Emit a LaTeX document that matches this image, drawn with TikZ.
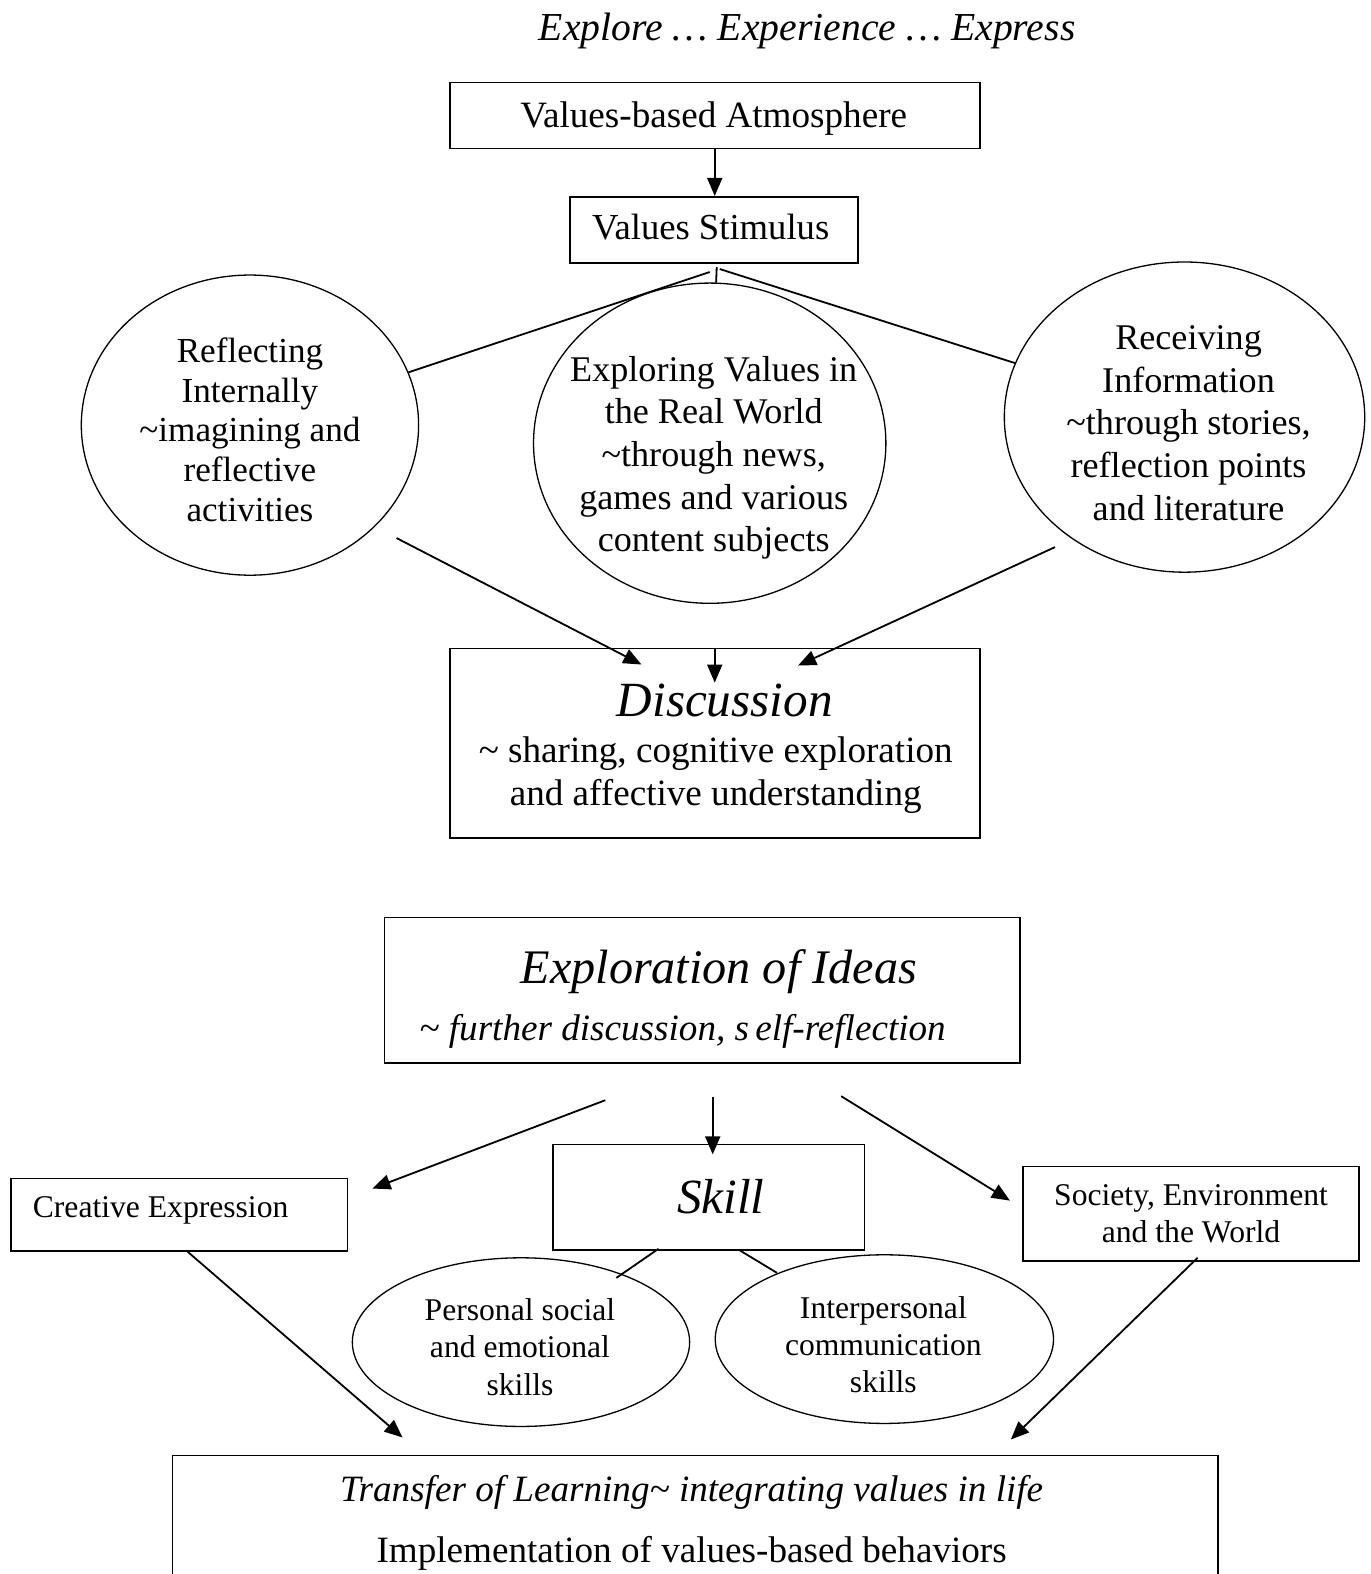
\documentclass[tikz,border=0pt]{standalone}
\usepackage{fontspec}
\newfontfamily\tnr{Liberation Serif}
\usetikzlibrary{shapes.geometric,arrows.meta}
\tikzset{
  boxline/.style={line width=1.6pt},
  box/.style={draw, boxline, inner sep=0pt, align=center, font=\tnr\fontsize{37}{43}\selectfont},
  sbox/.style={draw, boxline, inner sep=0pt, align=center, font=\tnr\fontsize{31.5}{36.5}\selectfont},
  ell/.style={draw, ellipse, line width=1.3pt, inner sep=0pt},
  etxt/.style={align=center, inner sep=0pt, font=\tnr\fontsize{36}{42.5}\selectfont},
  etxtl/.style={align=center, inner sep=0pt, font=\tnr\fontsize{35}{39.5}\selectfont},
  etxts/.style={align=center, inner sep=0pt, font=\tnr\fontsize{31.5}{37}\selectfont},
  btxt/.style={align=center, inner sep=0pt, font=\tnr\fontsize{37}{43}\selectfont},
  itx/.style={inner sep=0pt, font=\tnr\itshape\fontsize{#1}{#1}\selectfont},
  conn/.style={line width=1.8pt},
  arr/.style={conn, -{Triangle[length=18pt,width=15pt]}},
}
\begin{document}
\begin{tikzpicture}[x=1pt,y=-1pt]
\useasboundingbox (0,0) rectangle (1365,1568);

% title
\node[itx=39.5] (title) at (804,31) {Explore \ldots\ Experience \ldots\ Express};

% top boxes
\node[box, minimum width=528pt, minimum height=66pt] (atm) at (712,115) {};
\node[btxt] (atmT) at (711,118) {Values-based Atmosphere};
\node[box, minimum width=287pt, minimum height=66pt] (stim) at (711.5,229) {};
\node[btxt, font=\tnr\fontsize{36.5}{43}\selectfont] (stimT) at (708,226) {Values Stimulus};

% ellipses
\node[ell, minimum width=336pt, minimum height=299pt] (refl) at (249,423.5) {};
\node[etxtl] (reflT) at (249,428) {Reflecting\\Internally\\\textasciitilde imagining and\\reflective\\activities};
\node[ell, minimum width=351pt, minimum height=319pt] (expl) at (707,441.5) {};
\node[etxt] (explT) at (711,456) {Exploring Values in\\the Real World\\\textasciitilde through news,\\games and various\\content subjects};
\node[ell, minimum width=359pt, minimum height=309pt] (recv) at (1180,415.5) {};
\node[etxt] (recvT) at (1184,421.5) {Receiving\\Information\\\textasciitilde through stories,\\reflection points\\and literature};

% discussion
\node[box, minimum width=528pt, minimum height=189pt] (disc) at (712,740.5) {};
\node[itx=49] (discA) at (722,698) {Discussion};
\node[btxt] (discB) at (713,772) {\textasciitilde{} sharing, cognitive exploration\\and affective understanding};

% exploration
\node[box, minimum width=633pt, minimum height=145pt] (expo) at (699.5,986.5) {};
\node[itx=48] (expoA) at (716,968) {Exploration of Ideas};
\node[itx=37] (expoB) at (680,1027) {\textasciitilde{} further discussion, s\,elf-reflection};

% lower row
\node[sbox, minimum width=335pt, minimum height=72pt] (creat) at (178.5,1210) {};
\node[etxts] (creatT) at (160,1206) {Creative Expression};
\node[box, minimum width=310pt, minimum height=105pt] (skill) at (706,1192.5) {};
\node[itx=49] (skillT) at (718,1192) {Skill};
\node[sbox, minimum width=335pt, minimum height=94pt] (soc) at (1186.5,1209) {Society, Environment\\and the World};

\node[ell, minimum width=336pt, minimum height=168pt] (pse) at (519,1337) {};
\node[etxts] (pseT) at (518,1342) {Personal social\\and emotional\\skills};
\node[ell, minimum width=337pt, minimum height=168pt] (ipc) at (881,1334) {};
\node[etxts] (ipcT) at (880,1339.5) {Interpersonal\\communication\\skills};

% transfer box (cut at bottom)
\node[minimum width=1041pt, minimum height=118pt, inner sep=0pt] (trans) at (692.5,1509) {};
\draw[boxline] (trans.south west) |- (trans.north east) -- (trans.south east);
\node[itx=37] (transA) at (689,1487) {Transfer of Learning\textasciitilde{} integrating values in life};
\node[btxt] (transB) at (689,1547) {Implementation of values-based behaviors};

% connectors
\draw[arr] (atm.south) -- (atm.south |- stim.north);
\coordinate (forkL) at (707,271);
\coordinate (forkM) at (714,266);
\coordinate (forkR) at (717,268);
\draw[conn] (forkL) -- (refl);
\draw[conn] (forkM) -- (expl);
\draw[conn] (forkR) -- (recv);

\coordinate (r1) at (395,536);
\coordinate (d1) at (639,662);
\coordinate (d2) at (712,680);
\coordinate (r3) at (1051,545);
\coordinate (d3) at (795,663);
\draw[arr] (r1) -- (d1);
\draw[arr] (disc.north) -- (d2);
\draw[arr] (r3) -- (d3);

\coordinate (x1) at (603,1096);
\coordinate (c1e) at (371,1184);
\coordinate (x2) at (710,1093);
\coordinate (s2) at (710,1150);
\coordinate (x3) at (838,1092);
\coordinate (c3e) at (1006,1196);
\draw[arr] (x1) -- (c1e);
\draw[arr] (x2) -- (s2);
\draw[arr] (x3) -- (c3e);

\coordinate (k1) at (656,1244);
\coordinate (k1e) at (614,1273);
\coordinate (k2) at (736,1245);
\coordinate (k2e) at (774,1268);
\draw[conn] (k1) -- (k1e);
\draw[conn] (k2) -- (k2e);

\coordinate (c4) at (187,1247);
\coordinate (t1) at (401,1432);
\coordinate (c5) at (1193,1253);
\coordinate (t2) at (1007,1434);
\draw[arr] (c4) -- (t1);
\draw[arr] (c5) -- (t2);
\end{tikzpicture}
\end{document}
